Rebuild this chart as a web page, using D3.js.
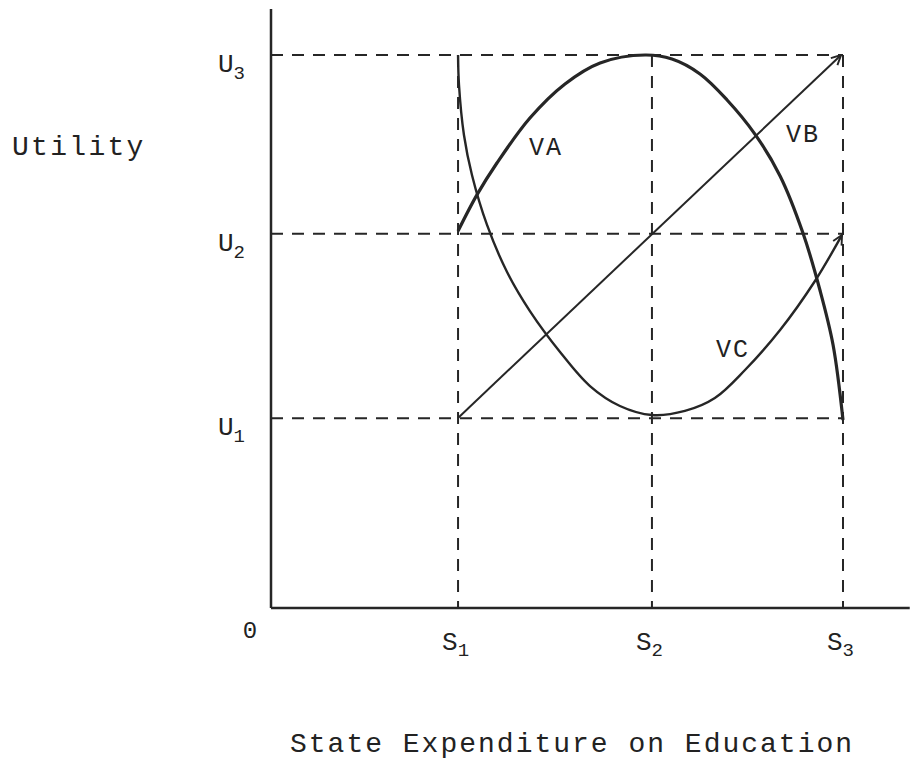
<!DOCTYPE html>
<html><head><meta charset="utf-8">
<script src="https://cdn.jsdelivr.net/npm/d3@7"></script>
<style>body{margin:0;background:#fff}svg{display:block}text{font-family:"Liberation Mono","Courier New",monospace;fill:#222}</style>
</head><body><svg id="c" width="910" height="761"></svg>
<script>
// ---- data (x: expenditure units, y: utility units) ----
const sTicks = [0.981, 1.998, 3.0];
const sLabels = ["1", "2", "3"];
const uTicks = [1.03, 2.03, 3.0];
const uLabels = ["1", "2", "3"];
const vaX = [0.981,1.080,1.185,1.358,1.542,1.726,1.962,2.103,2.250,2.392,2.538,2.670,2.790,2.879,2.948,3.0];
const vaY = [2.045,2.241,2.414,2.658,2.843,2.957,3.0,2.978,2.897,2.756,2.571,2.344,2.034,1.725,1.427,1.020];
const vbX = [0.981, 2.99];
const vbY = [1.031, 3.0];
const vcX = [0.981,0.986,1.012,1.054,1.133,1.238,1.358,1.516,1.673,1.830,1.998,2.171,2.328,2.486,2.670,2.853,2.995];
const vcY = [3.0,2.837,2.566,2.349,2.078,1.823,1.611,1.389,1.204,1.096,1.047,1.069,1.139,1.291,1.508,1.774,2.024];

const svg = d3.select("#c");
const x = d3.scaleLinear().domain([0, 3]).range([271, 843]);
const y = d3.scaleLinear().domain([0, 3]).range([608, 55]);
const ink = "#262626";

// dashed guide lines
const dash = "12,9";
uTicks.forEach(u => {
  svg.append("line").attr("x1", x(0)).attr("x2", x(3)).attr("y1", y(u)).attr("y2", y(u))
    .attr("stroke", ink).attr("stroke-width", 2).attr("stroke-dasharray", dash);
});
sTicks.forEach(s => {
  svg.append("line").attr("x1", x(s)).attr("x2", x(s)).attr("y1", y(3)).attr("y2", y(0))
    .attr("stroke", ink).attr("stroke-width", 2).attr("stroke-dasharray", dash);
});

// axes
svg.append("line").attr("x1", x(0)).attr("x2", x(0)).attr("y1", y(3.25)).attr("y2", y(0))
  .attr("stroke", ink).attr("stroke-width", 2.5);
svg.append("line").attr("x1", x(0)).attr("x2", x(3.35)).attr("y1", y(0)).attr("y2", y(0))
  .attr("stroke", ink).attr("stroke-width", 2.5);

// arrow marker
svg.append("defs").append("marker").attr("id", "arr").attr("viewBox", "0 0 10 10")
  .attr("refX", 9).attr("refY", 5).attr("markerWidth", 12).attr("markerHeight", 12)
  .attr("markerUnits", "userSpaceOnUse").attr("orient", "auto")
  .append("path").attr("d", "M1,1 L9,5 L1,9").attr("fill", "none").attr("stroke", ink).attr("stroke-width", 1.6);

const line = d3.line().x(d => x(d[0])).y(d => y(d[1])).curve(d3.curveCatmullRom.alpha(0.5));
const zip = (a, b) => a.map((v, i) => [v, b[i]]);

svg.append("path").attr("d", line(zip(vaX, vaY))).attr("fill", "none").attr("stroke", ink).attr("stroke-width", 3.2);
svg.append("path").attr("d", d3.line().x(d => x(d[0])).y(d => y(d[1]))(zip(vbX, vbY)))
  .attr("fill", "none").attr("stroke", ink).attr("stroke-width", 2).attr("marker-end", "url(#arr)");
svg.append("path").attr("d", line(zip(vcX, vcY))).attr("fill", "none").attr("stroke", ink).attr("stroke-width", 2.4).attr("marker-end", "url(#arr)");

// tick labels
uTicks.forEach((u, i) => {
  const t = svg.append("text").attr("x", 218).attr("y", y(u) + 17).attr("font-size", 26);
  t.append("tspan").text("U");
  t.append("tspan").attr("dy", 7).attr("font-size", 19).text(uLabels[i]);
});
sTicks.forEach((s, i) => {
  const t = svg.append("text").attr("x", x(s) - 16).attr("y", 650).attr("font-size", 26);
  t.append("tspan").text("S");
  t.append("tspan").attr("dy", 6).attr("font-size", 19).text(sLabels[i]);
});
svg.append("text").attr("x", 250).attr("y", 638).attr("text-anchor", "middle").attr("font-size", 24).text("0");

// curve labels
svg.append("text").attr("x", 529).attr("y", 155).attr("font-size", 25).attr("letter-spacing", 2).text("VA");
svg.append("text").attr("x", 786).attr("y", 142).attr("font-size", 25).attr("letter-spacing", 2).text("VB");
svg.append("text").attr("x", 716).attr("y", 357).attr("font-size", 25).attr("letter-spacing", 2).text("VC");

// axis titles
svg.append("text").attr("x", 12).attr("y", 155).attr("font-size", 28).attr("letter-spacing", 2.3).text("Utility");
svg.append("text").attr("x", 290).attr("y", 752).attr("font-size", 28).attr("letter-spacing", 2).text("State Expenditure on Education");
</script></body></html>
